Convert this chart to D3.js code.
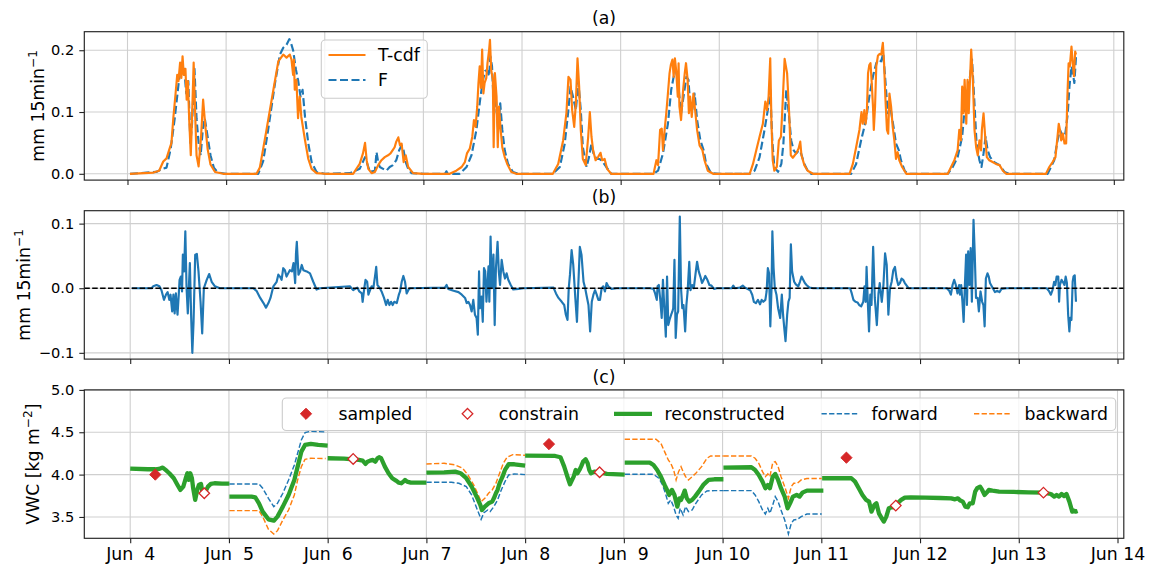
<!DOCTYPE html>
<html><head><meta charset="utf-8">
<script src="https://cdn.jsdelivr.net/npm/d3@7"></script>
<style>
body{margin:0;background:#fff}
text{font-family:"DejaVu Sans",sans-serif;fill:#000;white-space:pre}
</style></head>
<body><svg id="c" width="1150" height="566"></svg>
<script>
// ---------- DATA (time in hours since Jun 4 00:00) ----------
const tickHours = [0,24,48,72,96,120,144,168,192,216,240];
const tickLabels = ["Jun  4","Jun  5","Jun  6","Jun  7","Jun  8","Jun  9","Jun 10","Jun 11","Jun 12","Jun 13","Jun 14"];
const yTicksA = [0,0.1,0.2], yLabelsA = ["0.0","0.1","0.2"];
const yTicksB = [-0.1,0,0.1], yLabelsB = ["\u22120.1","0.0","0.1"];
const yTicksC = [3.5,4.0,4.5,5.0], yLabelsC = ["3.5","4.0","4.5","5.0"];

const tcdf = [
[0.6,0],[6.3,0.002],[7.7,0.005],[8.7,0.02],[9.5,0.025],[10.2,0.04],[10.7,0.05],[11.15,0.09],[11.7,0.13],[12.1,0.16],[12.4,0.15],[12.8,0.18],[13.1,0.155],[13.4,0.19],[13.7,0.16],[14.1,0.17],[14.4,0.12],[14.7,0.15],[15.0,0.09],[15.4,0.03],[15.7,0.09],[16.1,0.18],[16.5,0.09],[16.8,0.03],[17.3,0.012],[17.9,0.06],[18.4,0.12],[18.9,0.08],[19.5,0.04],[20.2,0.015],[21.3,0.003],[23.3,0],
[31.4,0],[32.2,0.01],[33.0,0.04],[33.8,0.07],[35.5,0.136],[36.7,0.182],[37.9,0.193],[38.7,0.188],[39.5,0.193],[39.9,0.185],[40.3,0.16],[40.5,0.185],[40.7,0.136],[41.1,0.152],[41.5,0.09],[41.9,0.125],[42.3,0.092],[43.2,0.054],[44.0,0.024],[44.8,0.008],[46.0,0.001],[48,0],
[54.9,0],[56.5,0.016],[57.3,0.033],[57.8,0.05],[58.2,0.022],[58.6,0.008],[59.4,0.001],[60.2,0.003],[61.0,0.014],[61.8,0.022],[62.6,0.027],[63.4,0.03],[64.0,0.033],[64.5,0.038],[65.0,0.043],[65.4,0.052],[65.9,0.059],[66.3,0.046],[66.7,0.049],[67.2,0.019],[67.7,0.03],[68.3,0.011],[69.5,0.001],[72,0],
[78.4,0],[80.0,0.005],[81.3,0.011],[82.1,0.019],[82.6,0.033],[83.3,0.041],[83.9,0.06],[84.3,0.087],[84.7,0.076],[85.1,0.109],[85.4,0.147],[85.7,0.174],[86.0,0.139],[86.3,0.201],[86.6,0.13],[86.9,0.147],[87.3,0.155],[87.6,0.179],[88.0,0.201],[88.2,0.217],[88.5,0.168],[88.9,0.152],[89.1,0.043],[89.4,0.163],[89.8,0.125],[90.1,0.043],[90.4,0.109],[90.8,0.071],[91.2,0.043],[91.8,0.027],[92.4,0.016],[93.4,0.003],[94.6,0],
[103.5,0],[104.8,0.016],[106.0,0.054],[106.8,0.098],[107.3,0.157],[107.8,0.152],[108.2,0.103],[108.7,0.076],[109.1,0.114],[109.5,0.187],[109.9,0.141],[110.3,0.071],[110.8,0.024],[111.5,0.014],[112.1,0.060],[112.5,0.1],[112.9,0.06],[113.3,0.038],[113.9,0.022],[114.5,0.027],[115.1,0.034],[115.5,0.022],[116.1,0.024],[116.7,0.008],[117.7,0],
[128.0,0],[128.7,0.022],[129.1,0.014],[129.6,0.071],[130.0,0.073],[130.3,0.038],[130.7,0.071],[131.1,0.098],[131.5,0.13],[131.9,0.163],[132.2,0.176],[132.6,0.185],[132.9,0.157],[133.2,0.187],[133.5,0.168],[133.9,0.125],[134.1,0.179],[134.3,0.109],[134.7,0.087],[135.2,0.136],[135.6,0.163],[135.9,0.179],[136.3,0.152],[136.6,0.098],[136.9,0.125],[137.3,0.092],[137.7,0.13],[138.2,0.098],[138.6,0.071],[139.2,0.046],[139.9,0.038],[140.4,0.022],[141.2,0.005],[142.5,0],
[151.4,0],[152.2,0.016],[153.0,0.038],[153.8,0.06],[154.6,0.081],[155.2,0.117],[155.6,0.103],[156.0,0.125],[156.4,0.187],[156.7,0.081],[157.0,0.022],[157.4,0.005],[158.0,0.011],[158.5,0.054],[159.0,0.06],[159.3,0.098],[159.9,0.186],[160.5,0.163],[161.0,0.098],[161.4,0.03],[161.9,0.026],[162.7,0.033],[163.3,0.041],[163.7,0.052],[164.0,0.03],[164.7,0.014],[165.5,0.005],[166.8,0],
[175.7,0],[176.5,0.016],[177.3,0.043],[178.1,0.071],[178.6,0.1],[178.9,0.081],[179.3,0.103],[179.6,0.081],[179.9,0.098],[180.2,0.163],[180.5,0.176],[180.8,0.179],[181.1,0.147],[181.4,0.109],[181.6,0.071],[181.9,0.109],[182.2,0.174],[182.6,0.191],[183.0,0.194],[183.4,0.193],[183.8,0.212],[184.1,0.179],[184.4,0.125],[184.8,0.071],[185.1,0.065],[185.4,0.13],[185.8,0.109],[186.2,0.076],[186.6,0.054],[187.0,0.024],[187.4,0.035],[187.8,0.022],[188.5,0.011],[189.5,0],
[199.6,0],[200.4,0.011],[201.2,0.022],[202.0,0.038],[202.4,0.071],[202.8,0.054],[203.1,0.141],[203.4,0.098],[203.7,0.152],[204.1,0.081],[204.4,0.152],[204.7,0.098],[205.0,0.152],[205.3,0.201],[205.7,0.152],[206.1,0.071],[206.5,0.043],[206.9,0.030],[207.3,0.054],[207.7,0.038],[207.9,0.071],[208.3,0.098],[208.7,0.060],[209.1,0.027],[209.7,0.022],[210.5,0.019],[211.3,0.016],[212.2,0.014],[213.0,0.005],[213.8,0],
[223.5,0],[224.3,0.011],[225.1,0.019],[225.8,0.027],[226.3,0.060],[226.6,0.081],[226.9,0.071],[227.2,0.054],[227.6,0.065],[228.0,0.049],[228.4,0.049],[228.7,0.125],[229.0,0.179],[229.3,0.174],[229.7,0.206],[230.0,0.179],[230.3,0.158],[230.6,0.198],[230.8,0.193]
];

const fSeries = [
[0.6,0],[7,0.003],[8.5,0.008],[9.5,0.01],[10.5,0.04],[11.5,0.09],[12.5,0.15],[13.3,0.18],[13.8,0.17],[14.3,0.13],[14.8,0.15],[15.3,0.05],[15.7,0.08],[16.3,0.17],[16.8,0.09],[17.3,0.05],[17.8,0.03],[18.3,0.07],[18.8,0.09],[19.5,0.06],[20.2,0.03],[21,0.01],[22,0.002],[24,0],
[31.8,0],[33,0.02],[34.2,0.07],[35.9,0.147],[37.1,0.193],[37.9,0.204],[38.7,0.209],[39.4,0.218],[39.9,0.209],[40.3,0.2],[41.0,0.168],[41.5,0.152],[42.1,0.125],[42.6,0.136],[43.2,0.092],[44.0,0.049],[44.8,0.019],[46,0.003],[48,0],
[54.1,0.001],[56.5,0.008],[57.8,0.027],[58.2,0.019],[59,0.003],[60.2,0.005],[60.6,0.035],[61.0,0.019],[61.4,0.011],[62.2,0.008],[63.0,0.005],[63.8,0.011],[64.6,0.014],[65.4,0.022],[66.1,0.038],[66.7,0.046],[67.1,0.041],[67.7,0.019],[68.3,0.008],[69.1,0.001],[72,0],
[77.3,0],[77.6,0.004],[77.9,0],[80.8,0],[82.5,0.011],[83.7,0.030],[84.9,0.071],[85.9,0.125],[86.5,0.152],[87,0.166],[87.5,0.168],[88,0.158],[88.3,0.19],[88.7,0.174],[89.2,0.098],[89.6,0.125],[90.2,0.071],[90.7,0.114],[91.2,0.071],[91.8,0.038],[92.6,0.016],[93.8,0.003],[95,0],
[103.5,0],[105.2,0.011],[106.4,0.049],[107.2,0.098],[107.8,0.141],[108.4,0.125],[109.1,0.103],[109.7,0.149],[110.3,0.103],[110.8,0.043],[111.7,0.011],[112.3,0.027],[112.9,0.049],[113.4,0.033],[114.1,0.024],[114.9,0.024],[115.7,0.019],[116.5,0.011],[117.7,0],
[128,0],[129.1,0.005],[130.3,0.033],[131.5,0.081],[132.3,0.136],[132.9,0.157],[133.4,0.168],[133.9,0.152],[134.3,0.125],[134.7,0.098],[135.3,0.125],[136,0.157],[136.5,0.152],[136.9,0.114],[137.4,0.103],[138.0,0.13],[138.6,0.087],[139.4,0.054],[140.2,0.038],[140.8,0.016],[142,0.001],[144,0],
[147.3,0],[147.5,0.003],[147.7,0],[149.5,0],[149.7,0.003],[149.9,0],[151.4,0],[152.6,0.005],[153.8,0.027],[155,0.071],[155.8,0.103],[156.4,0.136],[156.9,0.054],[157.4,0.011],[158.3,0.003],[159.1,0.016],[159.6,0.049],[160.3,0.136],[160.9,0.098],[161.5,0.054],[162.1,0.038],[162.7,0.033],[163.4,0.038],[163.9,0.033],[164.7,0.016],[165.5,0.005],[166.4,0],
[176.1,0],[177.3,0.016],[178.5,0.054],[179.7,0.087],[180.5,0.125],[181.4,0.158],[182.2,0.179],[182.8,0.185],[183.4,0.182],[183.9,0.195],[184.4,0.152],[185,0.098],[185.6,0.109],[186.4,0.076],[187,0.049],[187.7,0.038],[188.2,0.022],[189.1,0.005],[189.9,0],
[199.6,0],[200.8,0.011],[202.0,0.027],[203.1,0.060],[203.6,0.098],[204.2,0.125],[204.9,0.152],[205.5,0.185],[206,0.125],[206.6,0.049],[207.3,0.022],[207.8,0.011],[208.3,0.033],[208.8,0.060],[209.3,0.038],[209.9,0.027],[210.9,0.019],[212.2,0.014],[213.4,0.003],[214.6,0],
[223.9,0],[224.7,0.011],[225.5,0.022],[226.3,0.054],[226.9,0.071],[227.6,0.060],[228.2,0.065],[228.8,0.098],[229.2,0.141],[229.7,0.174],[230.0,0.163],[230.4,0.147],[230.8,0.190]
];

const diffSeries = [
[0.4,0],[5.2,0],[5.6,0.003],[6.4,0.005],[7.1,0.003],[7.6,-0.003],[8.2,-0.018],[8.7,-0.010],[9.1,-0.006],[9.5,-0.018],[9.8,-0.010],[10.2,-0.036],[10.5,-0.010],[10.8,-0.039],[11.1,-0.008],[11.5,-0.041],[11.8,-0.010],[12.0,0.013],[12.3,0.018],[12.6,-0.005],[12.8,0.052],[13.1,0.026],[13.4,0.088],[13.7,0],[14.0,-0.039],[14.5,0.039],[14.8,-0.041],[15.1,-0.100],[15.4,-0.052],[15.8,0.052],[16.2,0.053],[16.6,0.026],[17.1,-0.021],[17.5,-0.070],[17.9,0],[18.6,0.013],[19.2,0.022],[19.8,0.010],[20.6,0.003],[21.8,0],
[29.9,0],[30.7,-0.004],[31.6,-0.015],[32.4,-0.023],[33.0,-0.030],[33.6,-0.023],[34.1,-0.015],[34.8,0.003],[35.6,0.010],[36.0,0.021],[36.4,0.018],[36.8,0.013],[37.2,0.031],[37.6,0.028],[38.0,0.018],[38.4,0.023],[38.8,0.028],[39.3,0.026],[39.7,0.039],[40.1,0.008],[40.3,0.054],[40.5,0.072],[40.9,0.021],[41.3,0.026],[41.7,0.036],[42.1,0.028],[42.9,0.026],[43.7,0.023],[44.5,0.010],[45.3,-0.002],[46.1,0],
[53.4,0.003],[54.2,-0.003],[55.2,0.001],[55.7,-0.005],[56.3,-0.008],[56.5,-0.021],[56.9,0],[57.2,0.013],[57.6,0.010],[57.9,-0.010],[58.3,-0.003],[58.7,0.003],[59.1,0],[59.5,0.018],[59.8,0.033],[60.1,0.005],[60.6,0.001],[61.1,-0.005],[61.7,-0.015],[62.2,-0.026],[62.6,-0.018],[63.0,-0.026],[63.4,-0.021],[63.8,-0.026],[64.2,-0.021],[64.8,-0.023],[65.3,-0.010],[65.6,-0.005],[66.0,0.010],[66.4,0.019],[66.8,0.010],[67.2,-0.008],[67.6,-0.003],[68.0,0],
[76.5,0.001],[76.9,0.005],[77.3,-0.001],[78.6,-0.004],[79.8,-0.006],[80.6,-0.010],[81.4,-0.015],[81.8,-0.023],[82.2,-0.021],[82.6,-0.026],[83.0,-0.036],[83.4,-0.018],[83.8,-0.041],[84.2,-0.046],[84.5,-0.072],[84.8,0.026],[85.0,-0.031],[85.4,-0.013],[85.7,-0.052],[86.0,0.031],[86.3,0.026],[86.6,-0.021],[87.1,0.034],[87.3,-0.021],[87.6,0.08],[87.9,0],[88.3,0.052],[88.6,-0.057],[88.9,0.031],[89.3,0.072],[89.6,0.026],[89.9,0.005],[90.3,0.044],[90.7,0.026],[91.1,0.015],[91.5,0.023],[91.9,0.013],[92.5,0.005],[93.1,-0.002],[94.4,-0.001],[95.6,0],
[102.9,0.001],[103.5,-0.008],[104.1,-0.015],[104.9,-0.021],[105.5,-0.026],[105.9,-0.041],[106.3,-0.049],[106.6,0],[106.9,0.021],[107.3,0.059],[107.7,0.036],[108.2,-0.015],[108.6,-0.052],[108.9,0],[109.3,0.064],[109.7,0.052],[110.2,0.010],[110.6,0],[110.9,-0.010],[111.4,-0.026],[111.8,-0.067],[112.2,-0.021],[112.6,-0.010],[113.0,-0.003],[113.4,-0.010],[113.8,-0.018],[114.2,-0.018],[114.6,0],[115.0,0.003],[115.4,-0.005],[115.8,0.008],[116.2,0.003],[117.0,-0.001],[118.3,0],
[126.4,0],[127.2,-0.001],[127.6,-0.008],[128.0,-0.018],[128.2,0.003],[128.5,0.005],[128.9,-0.021],[129.2,-0.046],[129.5,0.013],[129.8,-0.026],[130.2,-0.075],[130.5,0.018],[130.8,-0.057],[131.1,-0.049],[131.5,-0.041],[131.8,-0.036],[132.0,-0.031],[132.3,0.044],[132.6,-0.077],[132.9,-0.041],[133.2,-0.036],[133.6,0.111],[133.9,0],[134.2,-0.031],[134.5,-0.026],[134.9,-0.067],[135.2,-0.026],[135.5,-0.005],[135.9,0.041],[136.2,-0.003],[136.6,0.005],[137.0,0],[137.4,0.021],[137.8,0.041],[138.2,0.026],[138.6,0.018],[139.0,0.008],[139.4,0.013],[139.8,0.019],[140.3,0.013],[140.8,0.005],[141.3,0.004],[141.9,-0.001],[142.6,0],
[146.2,0],[146.6,0.004],[147.0,0],[148.2,0.001],[148.9,0.004],[149.4,0.001],[150.7,-0.003],[151.2,-0.010],[151.6,-0.021],[152.1,-0.023],[152.6,-0.018],[153.1,-0.025],[153.5,-0.018],[153.9,-0.021],[154.4,-0.018],[154.7,-0.005],[155.0,0.031],[155.3,0.023],[155.6,-0.059],[155.9,0],[156.1,0.088],[156.4,0.031],[156.7,0],[157.1,-0.010],[157.5,-0.031],[158.0,-0.046],[158.4,-0.010],[158.7,-0.041],[159.0,-0.062],[159.3,-0.082],[159.7,-0.041],[160.0,-0.021],[160.3,-0.015],[160.6,0.068],[160.9,0.026],[161.4,0.010],[161.8,0.006],[162.4,0.003],[162.8,0.010],[163.2,0.018],[163.6,0.013],[164.0,0.008],[164.4,0.005],[165.1,0.001],[166.1,0],
[175.0,0],[175.4,-0.008],[175.8,-0.018],[176.3,-0.021],[176.8,-0.022],[177.2,-0.026],[177.7,-0.028],[178.2,-0.021],[178.5,0.003],[178.8,-0.021],[179.0,0.033],[179.3,-0.021],[179.6,-0.067],[179.9,-0.010],[180.2,-0.026],[180.6,0.064],[181.0,-0.015],[181.5,-0.057],[181.9,-0.008],[182.2,0.008],[182.7,-0.021],[183.1,0.005],[183.5,0.054],[183.9,0.036],[184.3,-0.041],[184.7,0],[185.1,0.010],[185.5,0.028],[185.9,0.033],[186.3,0.015],[186.7,0.005],[187.1,0.008],[187.5,0.015],[187.9,0.013],[188.3,0.008],[189.2,0],[190.4,0],
[198.5,0],[199.1,-0.004],[199.5,-0.010],[199.9,0.005],[200.3,0.013],[200.7,0.005],[201.1,-0.008],[201.5,0.005],[201.7,-0.010],[202.0,0.005],[202.3,-0.021],[202.6,-0.052],[202.9,0.005],[203.2,0.052],[203.4,-0.026],[203.7,0.057],[204.0,0.005],[204.3,0.062],[204.6,-0.021],[205.0,0.106],[205.3,0.052],[205.6,-0.015],[206.0,-0.015],[206.3,-0.036],[206.7,-0.005],[207.1,-0.021],[207.4,-0.026],[207.7,-0.059],[208.0,0.015],[208.4,0.023],[208.7,0.018],[209.0,0.008],[209.7,0],[210.2,-0.006],[210.8,-0.004],[211.3,-0.006],[211.8,-0.001],[213.1,0],
[222.8,0],[223.4,-0.005],[223.8,-0.010],[224.2,-0.003],[224.6,0.010],[224.9,0.005],[225.2,0.018],[225.6,0.018],[225.8,-0.021],[226.0,0.005],[226.4,0.013],[226.7,0.010],[227.1,0.005],[227.4,0.018],[227.7,0.008],[228.0,-0.041],[228.3,-0.067],[228.5,-0.046],[228.8,-0.049],[229.1,0.010],[229.3,0.018],[229.6,0.02],[229.9,-0.021]
];

const reconstructed = [
[[0,4.071],[4.3,4.063],[6.1,4.063],[7.0,4.067],[7.9,4.083],[8.6,4.055],[9.5,4.016],[10.6,3.957],[11.5,3.878],[12.2,3.819],[12.9,3.858],[13.5,3.957],[13.9,4.016],[14.2,3.937],[14.6,4.016],[15.0,3.957],[15.3,3.839],[15.8,3.701],[16.3,3.819],[16.7,3.878],[17.2,3.890],[17.6,3.780],[18.3,3.799],[18.9,3.858],[19.6,3.890],[20.5,3.898],[22.3,3.894],[24.1,3.894]],
[[24.1,3.740],[29.5,3.740],[30.4,3.732],[31.3,3.661],[32.2,3.563],[33.6,3.472],[34.9,3.456],[35.8,3.504],[37.1,3.622],[38.5,3.760],[39.9,3.937],[40.7,4.094],[41.6,4.271],[42.5,4.350],[43.9,4.362],[45.7,4.350],[48.0,4.342]],
[[48,4.193],[52,4.189],[54.2,4.181],[55.6,4.173],[56.5,4.165],[57.2,4.126],[57.7,4.153],[58.3,4.165],[59.0,4.173],[59.6,4.153],[60.1,4.193],[60.5,4.205],[61.0,4.193],[61.9,4.094],[62.8,4.016],[63.7,3.957],[64.6,3.929],[65.3,3.905],[65.9,3.898],[66.4,3.917],[66.8,3.937],[67.3,3.917],[68.2,3.905],[72.0,3.905]],
[[72.0,4.024],[76.3,4.027],[79.0,4.035],[80.3,4.016],[81.7,3.957],[83.0,3.858],[84.4,3.720],[85.1,3.642],[85.5,3.582],[86.2,3.622],[87.1,3.661],[88.0,3.681],[88.4,3.720],[88.9,3.780],[89.3,3.819],[89.8,3.898],[90.5,3.976],[91.1,4.055],[92.0,4.122],[93.4,4.122],[96.0,4.106]],
[[96.0,4.224],[103.3,4.220],[104.6,4.205],[105.5,4.094],[106.4,3.957],[106.9,3.886],[107.8,3.976],[108.3,4.055],[108.7,4.016],[109.2,4.055],[109.6,4.094],[110.1,4.153],[110.7,4.181],[111.2,4.134],[111.6,4.055],[112.0,4.016],[112.8,4.035],[114.1,4.027],[115.9,4.008],[120.2,4.0]],
[[120.2,4.142],[126.3,4.142],[127.2,4.114],[128.1,4.055],[129.0,3.976],[129.9,3.878],[130.5,3.819],[131.0,3.760],[131.7,3.819],[132.3,3.760],[133.0,3.622],[133.5,3.720],[133.9,3.701],[134.4,3.760],[134.8,3.811],[135.3,3.720],[135.9,3.681],[136.6,3.701],[137.3,3.740],[138.2,3.799],[139.3,3.878],[140.6,3.937],[142.0,3.945],[144.2,3.945]],
[[144.2,4.083],[151.0,4.087],[151.9,4.055],[152.8,3.996],[153.7,3.917],[154.4,3.839],[155.0,3.878],[155.5,3.839],[156.2,3.976],[156.8,4.008],[157.5,3.937],[158.2,3.839],[159.1,3.740],[159.8,3.602],[160.4,3.661],[161.1,3.740],[162.0,3.760],[162.7,3.740],[163.4,3.787],[164.5,3.811],[168.5,3.811]],
[[168.2,3.957],[175.3,3.957],[176.2,3.917],[177.1,3.839],[178.0,3.760],[178.9,3.701],[179.6,3.681],[180.2,3.563],[180.9,3.642],[181.4,3.661],[182.0,3.543],[182.7,3.484],[183.2,3.445],[183.8,3.504],[184.4,3.602],[185.2,3.614],[185.9,3.622],[186.5,3.661],[187.4,3.701],[188.3,3.728],[189.7,3.732],[193.3,3.728],[196.9,3.724],[199.6,3.720],[200.5,3.708],[201.2,3.720],[201.8,3.693],[202.4,3.681],[203.0,3.622],[203.6,3.614],[204.1,3.661],[204.8,3.661],[205.4,3.799],[205.9,3.839],[206.6,3.858],[207.1,3.819],[207.7,3.760],[208.2,3.787],[208.7,3.819],[209.6,3.811],[211.2,3.799],[214.8,3.795],[218.4,3.791],[222.0,3.787],[223.8,3.771],[224.6,3.740],[225.2,3.760],[225.8,3.740],[226.4,3.771],[227.0,3.748],[227.6,3.771],[228.3,3.681],[229.0,3.563],[229.4,3.575],[229.8,3.563],[230.3,3.571]]
];

const forward = [
[[24.1,3.890],[31.3,3.890],[32.2,3.839],[33.6,3.720],[34.9,3.622],[35.8,3.661],[37.1,3.780],[38.5,3.937],[39.9,4.114],[40.7,4.252],[41.6,4.409],[42.5,4.496],[43.9,4.512],[47.5,4.504]],
[[72.0,3.909],[78.1,3.909],[79.9,3.898],[81.7,3.858],[83.0,3.760],[84.4,3.582],[85.3,3.472],[86.0,3.551],[86.9,3.582],[87.5,3.563],[88.4,3.622],[89.3,3.701],[90.2,3.819],[91.1,3.917],[92.0,3.996],[93.4,4.008],[96.0,4.0]],
[[120.2,4.004],[127.2,4.004],[128.5,3.957],[129.4,3.878],[130.1,3.780],[130.8,3.661],[131.4,3.701],[132.1,3.622],[132.7,3.523],[133.2,3.484],[133.7,3.602],[134.4,3.523],[135.0,3.622],[135.7,3.563],[136.6,3.582],[137.5,3.661],[138.9,3.760],[140.2,3.807],[142.0,3.811],[144.2,3.811]],
[[144.2,3.811],[151.0,3.811],[151.9,3.760],[152.8,3.681],[153.7,3.582],[154.4,3.535],[155.0,3.602],[155.5,3.543],[156.2,3.642],[156.8,3.740],[157.5,3.681],[158.2,3.582],[159.1,3.464],[160.0,3.299],[160.7,3.425],[161.3,3.464],[162.2,3.472],[163.1,3.504],[164.5,3.535],[168.1,3.535]]
];

const backward = [
[[24.1,3.575],[31.3,3.575],[32.2,3.504],[33.6,3.354],[34.9,3.299],[35.8,3.338],[37.1,3.464],[38.5,3.582],[39.9,3.760],[40.7,3.937],[41.6,4.094],[42.5,4.181],[43.9,4.193],[47.5,4.189]],
[[72.0,4.126],[76.3,4.134],[79.0,4.114],[80.8,4.075],[82.1,3.996],[83.5,3.878],[84.6,3.760],[85.3,3.681],[86.2,3.720],[87.1,3.780],[88.0,3.819],[88.9,3.898],[89.8,4.016],[90.7,4.134],[91.6,4.205],[93.0,4.236],[96.0,4.228]],
[[120.2,4.417],[127.8,4.417],[129.0,4.370],[129.9,4.271],[130.8,4.173],[131.4,4.134],[132.1,4.055],[132.7,3.937],[133.3,4.035],[133.9,4.094],[134.4,4.035],[135.0,3.976],[135.7,3.937],[136.6,3.976],[137.5,4.016],[138.9,4.094],[140.2,4.193],[141.1,4.220],[144.2,4.220]],
[[144.2,4.220],[151.0,4.220],[151.9,4.193],[152.8,4.134],[153.7,4.035],[154.4,3.976],[155.0,4.008],[155.5,3.976],[156.2,4.142],[156.8,4.153],[157.5,4.094],[158.2,3.976],[159.1,3.858],[160.0,3.720],[160.7,3.858],[161.3,3.898],[162.2,3.898],[163.1,3.937],[164.5,3.953],[168.1,3.953]]
];

const sampled = [[6.1,4.0],[101.8,4.36],[174.1,4.20]];
const constrain = [[18.0,3.78],[54.2,4.185],[114.1,4.028],[186.1,3.634],[222.0,3.787]];

// ---------- LAYOUT ----------
const C = {blue:"#1f77b4", orange:"#ff7f0e", green:"#2ca02c", red:"#d62728", grid:"#cfcfcf"};
const L = 84.3, R = 1123.8, PH = 148.4;
const tops = [31.7, 210.7, 389.9];
const svg = d3.select("#c");

const xA = d3.scaleLinear().domain([-10.51, 242.43]).range([L, R]);
const xBC = d3.scaleLinear().domain([-11.16, 241.53]).range([L, R]);
const yA = d3.scaleLinear().domain([-0.0102, 0.2300]).range([tops[0]+PH, tops[0]]);
const yB = d3.scaleLinear().domain([-0.1097, 0.1200]).range([tops[1]+PH, tops[1]]);
const yC = d3.scaleLinear().domain([3.248, 5.0]).range([tops[2]+PH, tops[2]]);

function panel(i, x, y, yTicks, yLabels, showX, title) {
  const top = tops[i];
  const g = svg.append("g");
  const clipId = "clip" + i;
  svg.append("clipPath").attr("id", clipId).append("rect")
    .attr("x", L).attr("y", top).attr("width", R - L).attr("height", PH);
  // grid
  g.selectAll(".vg").data(tickHours).join("line")
    .attr("x1", d => x(d)).attr("x2", d => x(d)).attr("y1", top).attr("y2", top + PH)
    .attr("stroke", C.grid).attr("stroke-width", 1.1);
  g.selectAll(".hg").data(yTicks).join("line")
    .attr("x1", L).attr("x2", R).attr("y1", d => y(d)).attr("y2", d => y(d))
    .attr("stroke", C.grid).attr("stroke-width", 1.1);
  const content = svg.append("g").attr("clip-path", `url(#${clipId})`);
  // axes
  const xa = d3.axisBottom(x).tickValues(tickHours).tickSize(5).tickSizeOuter(0).tickPadding(4)
    .tickFormat((d, k) => showX ? tickLabels[k] : "");
  const xg = svg.append("g").attr("transform", `translate(0,${top + PH})`).call(xa);
  xg.select(".domain").remove();
  xg.selectAll("line").attr("stroke", "#222").attr("stroke-width", 1.1);
  xg.selectAll("text").attr("font-size", null).style("font-size", "17.3px").attr("font-family", null);
  const ya = d3.axisLeft(y).tickValues(yTicks).tickSize(5).tickSizeOuter(0).tickPadding(5)
    .tickFormat((d, k) => yLabels[k]);
  const yg = svg.append("g").attr("transform", `translate(${L},0)`).call(ya);
  yg.select(".domain").remove();
  yg.selectAll("line").attr("stroke", "#222").attr("stroke-width", 1.1);
  yg.selectAll("text").attr("font-size", null).style("font-size", "14.6px").attr("font-family", null);
  svg.append("text").attr("x", (L + R) / 2).attr("y", top - 7.3).attr("text-anchor", "middle")
    .style("font-size", "17.3px").text(title);
  return {content, top};
}

function spine(i) {
  svg.append("rect").attr("x", L).attr("y", tops[i]).attr("width", R - L).attr("height", PH)
    .attr("fill", "none").attr("stroke", "#222").attr("stroke-width", 1.15);
}

function ylabel(xb, cy, main, sup, after) {
  const t = svg.append("text").attr("transform", `translate(${xb},${cy}) rotate(-90)`)
    .attr("text-anchor", "middle").style("font-size", "17.3px");
  t.append("tspan").text(main);
  t.append("tspan").attr("dy", -7).style("font-size", "12.1px").text(sup);
  if (after) t.append("tspan").attr("dy", 7).text(after);
}

// ---------- PANEL (a) ----------
const pa = panel(0, xA, yA, yTicksA, yLabelsA, false, "(a)");
const lineA = d3.line().x(d => xA(d[0])).y(d => yA(d[1]));
pa.content.append("path").attr("d", lineA(fSeries)).attr("fill", "none")
  .attr("stroke", C.blue).attr("stroke-width", 2.16).attr("stroke-dasharray", "8,3.5").attr("stroke-linejoin", "round");
pa.content.append("path").attr("d", lineA(tcdf)).attr("fill", "none")
  .attr("stroke", C.orange).attr("stroke-width", 2.16).attr("stroke-linejoin", "round");
spine(0);
ylabel(43.5, tops[0] + PH / 2, "mm 15min", "\u22121");
// legend a
const lgA = svg.append("g");
lgA.append("rect").attr("x", 321.3).attr("y", 40).attr("width", 106).attr("height", 58.3).attr("rx", 4)
  .attr("fill", "#fff").attr("fill-opacity", 0.8).attr("stroke", "#cccccc").attr("stroke-width", 1.1);
lgA.append("line").attr("x1", 328.5).attr("x2", 365.5).attr("y1", 55).attr("y2", 55)
  .attr("stroke", C.orange).attr("stroke-width", 2.16);
lgA.append("line").attr("x1", 328.5).attr("x2", 365.5).attr("y1", 80).attr("y2", 80)
  .attr("stroke", C.blue).attr("stroke-width", 2.16).attr("stroke-dasharray", "8,3.5");
lgA.append("text").attr("x", 378).attr("y", 61).style("font-size", "17.3px").text("T-cdf");
lgA.append("text").attr("x", 378).attr("y", 86).style("font-size", "17.3px").text("F");

// ---------- PANEL (b) ----------
const pb = panel(1, xBC, yB, yTicksB, yLabelsB, false, "(b)");
const lineB = d3.line().x(d => xBC(d[0])).y(d => yB(d[1]));
pb.content.append("path").attr("d", lineB(diffSeries)).attr("fill", "none")
  .attr("stroke", C.blue).attr("stroke-width", 2.16).attr("stroke-linejoin", "round");
pb.content.append("line").attr("x1", L).attr("x2", R).attr("y1", yB(0)).attr("y2", yB(0))
  .attr("stroke", "#000").attr("stroke-width", 1.5).attr("stroke-dasharray", "5.5,2.4");
spine(1);
ylabel(29.5, tops[1] + PH / 2, "mm 15min", "\u22121");

// ---------- PANEL (c) ----------
const pc = panel(2, xBC, yC, yTicksC, yLabelsC, true, "(c)");
const lineC = d3.line().x(d => xBC(d[0])).y(d => yC(d[1]));
forward.forEach(s => pc.content.append("path").attr("d", lineC(s)).attr("fill", "none")
  .attr("stroke", C.blue).attr("stroke-width", 1.44).attr("stroke-dasharray", "5.3,2.3"));
backward.forEach(s => pc.content.append("path").attr("d", lineC(s)).attr("fill", "none")
  .attr("stroke", C.orange).attr("stroke-width", 1.44).attr("stroke-dasharray", "5.3,2.3"));
reconstructed.forEach(s => pc.content.append("path").attr("d", lineC(s)).attr("fill", "none")
  .attr("stroke", C.green).attr("stroke-width", 4.3).attr("stroke-linejoin", "round").attr("stroke-linecap", "butt"));
const diamond = (cx, cy, r) => `M${cx},${cy - r}L${cx + r},${cy}L${cx},${cy + r}L${cx - r},${cy}Z`;
pc.content.selectAll(".smp").data(sampled).join("path")
  .attr("d", d => diamond(xBC(d[0]), yC(d[1]), 5.6)).attr("fill", C.red).attr("stroke", C.red).attr("stroke-width", 1);
pc.content.selectAll(".cst").data(constrain).join("path")
  .attr("d", d => diamond(xBC(d[0]), yC(d[1]), 5.3)).attr("fill", "#fff").attr("stroke", C.red).attr("stroke-width", 1.3);
spine(2);
ylabel(38.5, tops[2] + PH / 2, "VWC [kg m", "\u22122", "]");
// legend c
const lgC = svg.append("g");
lgC.append("rect").attr("x", 282.3).attr("y", 398).attr("width", 833.4).attr("height", 32.5).attr("rx", 4)
  .attr("fill", "#fff").attr("fill-opacity", 0.8).attr("stroke", "#cccccc").attr("stroke-width", 1.1);
const ly = 413.8;
lgC.append("path").attr("d", diamond(306, ly, 5.6)).attr("fill", C.red).attr("stroke", C.red);
lgC.append("text").attr("x", 338.5).attr("y", ly + 6).style("font-size", "17.3px").text("sampled");
lgC.append("path").attr("d", diamond(467.5, ly, 5.3)).attr("fill", "#fff").attr("stroke", C.red).attr("stroke-width", 1.3);
lgC.append("text").attr("x", 498.7).attr("y", ly + 6).style("font-size", "17.3px").text("constrain");
lgC.append("line").attr("x1", 614).attr("x2", 652).attr("y1", ly).attr("y2", ly).attr("stroke", C.green).attr("stroke-width", 4.3);
lgC.append("text").attr("x", 664.5).attr("y", ly + 6).style("font-size", "17.3px").text("reconstructed");
lgC.append("line").attr("x1", 821.5).attr("x2", 859.5).attr("y1", ly).attr("y2", ly).attr("stroke", C.blue).attr("stroke-width", 1.44).attr("stroke-dasharray", "5.3,2.3");
lgC.append("text").attr("x", 871.5).attr("y", ly + 6).style("font-size", "17.3px").text("forward");
lgC.append("line").attr("x1", 974).attr("x2", 1012).attr("y1", ly).attr("y2", ly).attr("stroke", C.orange).attr("stroke-width", 1.44).attr("stroke-dasharray", "5.3,2.3");
lgC.append("text").attr("x", 1024.5).attr("y", ly + 6).style("font-size", "17.3px").text("backward");
</script>
</body></html>
